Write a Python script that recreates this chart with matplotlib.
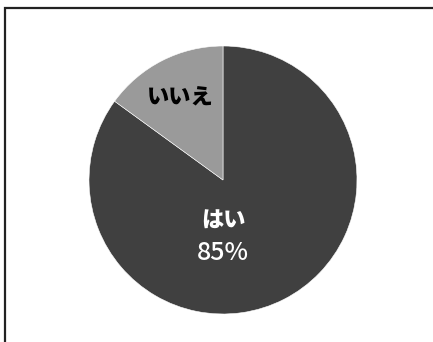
import matplotlib
matplotlib.use("Agg")
import matplotlib.pyplot as plt
from matplotlib.patches import Rectangle

# 回答の内訳
labels = ["はい", "いいえ"]
shares = [85, 15]
colors = ["#404040", "#9a9a9a"]

plt.rcParams['font.family'] = ['Noto Sans CJK JP', 'DejaVu Sans']

fig = plt.figure(figsize=(4.33, 3.42), dpi=100)
ax = fig.add_axes([0, 0, 1, 1])
ax.axis('off')

wedges, _ = ax.pie(shares, colors=colors, startangle=90, counterclock=False,
                   center=(223, 162), radius=134,
                   wedgeprops=dict(edgecolor='white', linewidth=0.4))
ax.set_xlim(0, 433)
ax.set_ylim(0, 342)
ax.set_aspect('equal')

# 枠線
ax.add_patch(Rectangle((5, -10), 440, 344, fill=False, edgecolor='#222222',
                       linewidth=1.6, clip_on=False))

ax.text(180, 244, labels[1], ha='center', va='center', fontsize=16,
        fontweight='heavy', color='black')
ax.text(223, 121, labels[0], ha='center', va='center', fontsize=16,
        fontweight='heavy', color='white')
ax.text(223, 89, f"{shares[0]}%", ha='center', va='center', fontsize=18,
        fontweight='medium', fontstretch='condensed', color='white')

fig.savefig('out.png', dpi=100)
